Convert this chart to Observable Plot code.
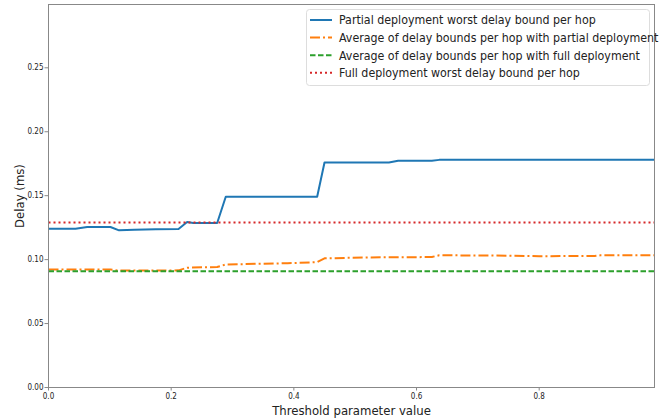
<!DOCTYPE html>
<html>
<head>
<meta charset="utf-8">
<script src="https://cdn.jsdelivr.net/npm/d3@7"></script>
<script src="https://cdn.jsdelivr.net/npm/@observablehq/plot@0.6"></script>
<style>
  body { margin: 0; background: #fff; }
  #wrap { position: relative; width: 672px; height: 420px; }
  #legend { position: absolute; left: 0; top: 0; pointer-events: none; }
</style>
</head>
<body>
<div id="wrap"></div>
<script>
// ---- data ----
const seriesNames = [
  "Partial deployment worst delay bound per hop",
  "Average of delay bounds per hop with partial deployment",
  "Average of delay bounds per hop with full deployment",
  "Full deployment worst delay bound per hop"
];
const seriesColors = ["#1f77b4", "#ff7f0e", "#2ca02c", "#d62728"];
const seriesDash = ["none", "10,3,2,3", "5.5,2.5", "2,3"];

const partialWorstX = [0, 0.044, 0.063, 0.101, 0.115, 0.14, 0.175, 0.212, 0.226, 0.236, 0.275, 0.289, 0.438, 0.45, 0.555, 0.57, 0.625, 0.637, 0.988];
const partialWorstY = [0.1242, 0.1242, 0.1255, 0.1255, 0.1229, 0.1233, 0.1237, 0.1239, 0.1294, 0.1286, 0.1286, 0.1492, 0.1492, 0.176, 0.176, 0.1773, 0.1773, 0.178, 0.178];

const partialAvgX = [0, 0.101, 0.115, 0.212, 0.226, 0.275, 0.289, 0.39, 0.438, 0.45, 0.52, 0.625, 0.637, 0.72, 0.8, 0.89, 0.9, 0.988];
const partialAvgY = [0.0922, 0.0922, 0.0914, 0.0916, 0.0937, 0.0942, 0.0962, 0.0972, 0.098, 0.101, 0.1017, 0.102, 0.1034, 0.1032, 0.1027, 0.1028, 0.1034, 0.1034];

const flatX = [0, 0.988];
const fullAvgY = [0.091, 0.091];
const fullWorstY = [0.129, 0.129];

const xTicks = [0, 0.2, 0.4, 0.6, 0.8];
const yTicks = [0, 0.05, 0.10, 0.15, 0.20, 0.25];

// ---- build tables ----
const toRows = (xs, ys) => xs.map((x, i) => ({x, y: ys[i]}));
const rows = [
  toRows(partialWorstX, partialWorstY),
  toRows(partialAvgX, partialAvgY),
  toRows(flatX, fullAvgY),
  toRows(flatX, fullWorstY)
];

const font = "'DejaVu Sans Condensed', 'DejaVu Sans', sans-serif";

const chart = Plot.plot({
  width: 672,
  height: 420,
  marginLeft: 48,
  marginRight: 18,
  marginTop: 4,
  marginBottom: 33,
  style: { fontFamily: font, background: "#fff", color: "#222" },
  x: { domain: [0, 0.988] },
  y: { domain: [0, 0.2995] },
  marks: [
    Plot.axisX({ ticks: xTicks, tickFormat: d3.format(".1f"), tickSize: 3.5, tickPadding: 2, fontSize: 8,
      stroke: "#888", label: "Threshold parameter value", labelAnchor: "center", labelArrow: "none", labelOffset: 27 }),
    Plot.axisY({ ticks: yTicks, tickFormat: d3.format(".2f"), tickSize: 3.5, tickPadding: 1.5, fontSize: 8,
      stroke: "#888", label: "Delay (ms)", labelAnchor: "center", labelArrow: "none", labelOffset: 34 }),
    ...rows.map((r, i) => Plot.line(r, {
      x: "x", y: "y",
      stroke: seriesColors[i],
      strokeWidth: 2,
      strokeDasharray: seriesDash[i],
      strokeLinecap: "butt",
      strokeLinejoin: "round"
    })),
    Plot.frame({ stroke: "#888", strokeWidth: 1 })
  ]
});

document.getElementById("wrap").appendChild(chart);

// axis-label font sizes
d3.select(chart).selectAll('g[aria-label="x-axis label"] text').attr("font-size", 13);
d3.select(chart).selectAll('g[aria-label="y-axis label"] text').attr("font-size", 13);

// ---- legend overlay ----
const lg = d3.select("#wrap").append("svg")
  .attr("id", "legend").attr("width", 672).attr("height", 420);
lg.append("rect")
  .attr("x", 306.5).attr("y", 9.5).attr("width", 343).attr("height", 76).attr("rx", 3)
  .attr("fill", "rgba(255,255,255,0.8)").attr("stroke", "#ddd");
seriesNames.forEach((name, i) => {
  const cy = 20 + i * 17.6;
  lg.append("line")
    .attr("x1", 310).attr("x2", 332).attr("y1", cy).attr("y2", cy)
    .attr("stroke", seriesColors[i]).attr("stroke-width", 2)
    .attr("stroke-dasharray", seriesDash[i] === "none" ? null : seriesDash[i]);
  lg.append("text")
    .attr("x", 339).attr("y", cy).attr("dy", "0.35em")
    .attr("font-family", font).attr("font-size", 12.3).attr("fill", "#222")
    .text(name);
});
</script>
</body>
</html>
